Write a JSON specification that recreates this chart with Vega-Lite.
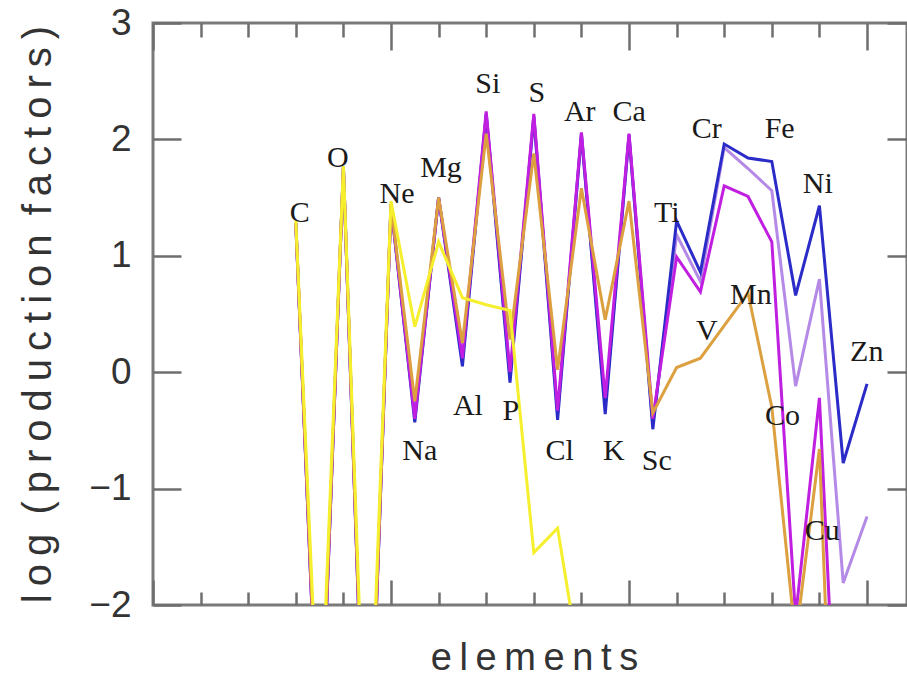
{
  "$schema": "https://vega.github.io/schema/vega-lite/v6.json",
  "width": 754,
  "height": 582,
  "autosize": {"type": "none"},
  "padding": {"left": 153, "top": 23, "right": 0, "bottom": 73},
  "background": "white",
  "config": {
    "view": {"stroke": "#7a7a7a", "strokeWidth": 3},
    "axis": {"domain": false, "grid": false, "tickColor": "#6e6e6e", "tickWidth": 2.5}
  },
  "datasets": {
    "lines": [
      {"s": "blue", "Z": 6, "v": 1.28}, {"s": "blue", "Z": 7, "v": -3.6}, {"s": "blue", "Z": 8, "v": 1.76}, {"s": "blue", "Z": 9, "v": -4.2}, {"s": "blue", "Z": 10, "v": 1.44}, {"s": "blue", "Z": 11, "v": -0.43}, {"s": "blue", "Z": 12, "v": 1.5}, {"s": "blue", "Z": 13, "v": 0.05}, {"s": "blue", "Z": 14, "v": 2.22}, {"s": "blue", "Z": 15, "v": -0.09}, {"s": "blue", "Z": 16, "v": 2.2}, {"s": "blue", "Z": 17, "v": -0.41}, {"s": "blue", "Z": 18, "v": 2.05}, {"s": "blue", "Z": 19, "v": -0.36}, {"s": "blue", "Z": 20, "v": 2.04}, {"s": "blue", "Z": 21, "v": -0.49}, {"s": "blue", "Z": 22, "v": 1.3}, {"s": "blue", "Z": 23, "v": 0.86}, {"s": "blue", "Z": 24, "v": 1.96}, {"s": "blue", "Z": 25, "v": 1.84}, {"s": "blue", "Z": 26, "v": 1.81}, {"s": "blue", "Z": 27, "v": 0.66}, {"s": "blue", "Z": 28, "v": 1.43}, {"s": "blue", "Z": 29, "v": -0.78}, {"s": "blue", "Z": 30, "v": -0.1},
      {"s": "lav", "Z": 6, "v": 1.28}, {"s": "lav", "Z": 7, "v": -3.6}, {"s": "lav", "Z": 8, "v": 1.76}, {"s": "lav", "Z": 9, "v": -4.2}, {"s": "lav", "Z": 10, "v": 1.44}, {"s": "lav", "Z": 11, "v": -0.38}, {"s": "lav", "Z": 12, "v": 1.5}, {"s": "lav", "Z": 13, "v": 0.1}, {"s": "lav", "Z": 14, "v": 2.2}, {"s": "lav", "Z": 15, "v": -0.04}, {"s": "lav", "Z": 16, "v": 2.18}, {"s": "lav", "Z": 17, "v": -0.36}, {"s": "lav", "Z": 18, "v": 2.03}, {"s": "lav", "Z": 19, "v": -0.3}, {"s": "lav", "Z": 20, "v": 2.02}, {"s": "lav", "Z": 21, "v": -0.45}, {"s": "lav", "Z": 22, "v": 1.18}, {"s": "lav", "Z": 23, "v": 0.78}, {"s": "lav", "Z": 24, "v": 1.93}, {"s": "lav", "Z": 25, "v": 1.75}, {"s": "lav", "Z": 26, "v": 1.56}, {"s": "lav", "Z": 27, "v": -0.12}, {"s": "lav", "Z": 28, "v": 0.8}, {"s": "lav", "Z": 29, "v": -1.81}, {"s": "lav", "Z": 30, "v": -1.24},
      {"s": "mag", "Z": 6, "v": 1.28}, {"s": "mag", "Z": 7, "v": -3.6}, {"s": "mag", "Z": 8, "v": 1.76}, {"s": "mag", "Z": 9, "v": -4.2}, {"s": "mag", "Z": 10, "v": 1.44}, {"s": "mag", "Z": 11, "v": -0.4}, {"s": "mag", "Z": 12, "v": 1.5}, {"s": "mag", "Z": 13, "v": 0.12}, {"s": "mag", "Z": 14, "v": 2.24}, {"s": "mag", "Z": 15, "v": 0.0}, {"s": "mag", "Z": 16, "v": 2.22}, {"s": "mag", "Z": 17, "v": -0.33}, {"s": "mag", "Z": 18, "v": 2.06}, {"s": "mag", "Z": 19, "v": -0.22}, {"s": "mag", "Z": 20, "v": 2.05}, {"s": "mag", "Z": 21, "v": -0.4}, {"s": "mag", "Z": 22, "v": 0.99}, {"s": "mag", "Z": 23, "v": 0.69}, {"s": "mag", "Z": 24, "v": 1.6}, {"s": "mag", "Z": 25, "v": 1.51}, {"s": "mag", "Z": 26, "v": 1.12}, {"s": "mag", "Z": 27, "v": -2.1}, {"s": "mag", "Z": 28, "v": -0.22}, {"s": "mag", "Z": 29, "v": -4.5}, {"s": "mag", "Z": 30, "v": -4.5},
      {"s": "org", "Z": 6, "v": 1.28}, {"s": "org", "Z": 7, "v": -3.5}, {"s": "org", "Z": 8, "v": 1.76}, {"s": "org", "Z": 9, "v": -4.1}, {"s": "org", "Z": 10, "v": 1.44}, {"s": "org", "Z": 11, "v": -0.25}, {"s": "org", "Z": 12, "v": 1.5}, {"s": "org", "Z": 13, "v": 0.25}, {"s": "org", "Z": 14, "v": 2.05}, {"s": "org", "Z": 15, "v": 0.28}, {"s": "org", "Z": 16, "v": 1.88}, {"s": "org", "Z": 17, "v": 0.02}, {"s": "org", "Z": 18, "v": 1.58}, {"s": "org", "Z": 19, "v": 0.45}, {"s": "org", "Z": 20, "v": 1.47}, {"s": "org", "Z": 21, "v": -0.35}, {"s": "org", "Z": 22, "v": 0.04}, {"s": "org", "Z": 23, "v": 0.12}, {"s": "org", "Z": 24, "v": 0.4}, {"s": "org", "Z": 25, "v": 0.68}, {"s": "org", "Z": 26, "v": -0.3}, {"s": "org", "Z": 27, "v": -2.3}, {"s": "org", "Z": 28, "v": -0.66}, {"s": "org", "Z": 29, "v": -6.0}, {"s": "org", "Z": 30, "v": -6.0},
      {"s": "yel", "Z": 6, "v": 1.3}, {"s": "yel", "Z": 7, "v": -3.3}, {"s": "yel", "Z": 8, "v": 1.77}, {"s": "yel", "Z": 9, "v": -3.9}, {"s": "yel", "Z": 10, "v": 1.47}, {"s": "yel", "Z": 11, "v": 0.39}, {"s": "yel", "Z": 12, "v": 1.12}, {"s": "yel", "Z": 13, "v": 0.64}, {"s": "yel", "Z": 14, "v": 0.58}, {"s": "yel", "Z": 15, "v": 0.53}, {"s": "yel", "Z": 16, "v": -1.55}, {"s": "yel", "Z": 17, "v": -1.34}, {"s": "yel", "Z": 18, "v": -2.6}
    ],
    "labels": [
      {"el": "C", "lx": 6.17, "ly": 1.29}, {"el": "O", "lx": 7.77, "ly": 1.76}, {"el": "Ne", "lx": 10.25, "ly": 1.45}, {"el": "Mg", "lx": 12.1, "ly": 1.68},
      {"el": "Si", "lx": 14.07, "ly": 2.4}, {"el": "S", "lx": 16.13, "ly": 2.32}, {"el": "Ar", "lx": 17.93, "ly": 2.16}, {"el": "Ca", "lx": 20.01, "ly": 2.16},
      {"el": "Ti", "lx": 21.59, "ly": 1.29}, {"el": "Cr", "lx": 23.27, "ly": 2.01}, {"el": "Fe", "lx": 26.33, "ly": 2.01}, {"el": "Ni", "lx": 27.93, "ly": 1.54},
      {"el": "Mn", "lx": 25.12, "ly": 0.59}, {"el": "V", "lx": 23.27, "ly": 0.28}, {"el": "Na", "lx": 11.21, "ly": -0.75}, {"el": "Al", "lx": 13.23, "ly": -0.37},
      {"el": "P", "lx": 15.04, "ly": -0.41}, {"el": "Cl", "lx": 17.09, "ly": -0.75}, {"el": "K", "lx": 19.36, "ly": -0.75}, {"el": "Sc", "lx": 21.17, "ly": -0.84},
      {"el": "Co", "lx": 26.45, "ly": -0.45}, {"el": "Cu", "lx": 28.12, "ly": -1.44}, {"el": "Zn", "lx": 29.99, "ly": 0.1}
    ]
  },
  "layer": [
    {
      "data": {"name": "lines"},
      "encoding": {
        "x": {
          "field": "Z", "type": "quantitative",
          "scale": {"domain": [0, 31.68], "nice": false, "zero": false},
          "axis": {
            "orient": "bottom",
            "values": [0, 2, 4, 6, 8, 10, 12, 14, 16, 18, 20, 22, 24, 26, 28, 30],
            "labels": false,
            "tickSize": {"condition": {"test": "datum.value % 10 === 0", "value": -25}, "value": -13},
            "title": "e\u2009l\u2009e\u2009m\u2009e\u2009n\u2009t\u2009s",
            "titleFont": "Liberation Sans", "titleFontSize": 38, "titleFontWeight": "normal", "titleColor": "#333",
            "titleX": 381, "titleY": 64, "titleBaseline": "alphabetic", "titleAlign": "center"
          }
        },
        "y": {
          "field": "v", "type": "quantitative",
          "scale": {"domain": [-2, 3], "nice": false, "zero": false},
          "axis": {
            "orient": "left",
            "values": [-2, -1, 0, 1, 2, 3],
            "tickSize": -28,
            "labelPadding": 50,
            "labelFont": "Liberation Sans", "labelFontSize": 37, "labelColor": "#333",
            "title": "l\u2009o\u2009g \u2009(\u2009p\u2009r\u2009o\u2009d\u2009u\u2009c\u2009t\u2009i\u2009o\u2009n \u2009f\u2009a\u2009c\u2009t\u2009o\u2009r\u2009s\u2009)",
            "titleFont": "Liberation Sans", "titleFontSize": 40, "titleFontWeight": "normal", "titleColor": "#333",
            "titleAngle": 270, "titleX": -103, "titleY": 291, "titleBaseline": "alphabetic", "titleAlign": "center"
          }
        }
      },
      "layer": [
        {"transform": [{"filter": "datum.s === 'lav'"}], "mark": {"type": "line", "color": "#b48ae6", "strokeWidth": 3, "clip": true}},
        {"transform": [{"filter": "datum.s === 'blue'"}], "mark": {"type": "line", "color": "#2b2bc8", "strokeWidth": 3, "clip": true}},
        {"transform": [{"filter": "datum.s === 'mag'"}], "mark": {"type": "line", "color": "#c01ee0", "strokeWidth": 3, "clip": true}},
        {"transform": [{"filter": "datum.s === 'org'"}], "mark": {"type": "line", "color": "#dca040", "strokeWidth": 3, "clip": true}},
        {"transform": [{"filter": "datum.s === 'yel'"}], "mark": {"type": "line", "color": "#f5ef2e", "strokeWidth": 3, "clip": true}}
      ]
    },
    {
      "data": {"name": "labels"},
      "mark": {"type": "text", "font": "Liberation Serif", "fontSize": 30, "color": "#1a1a1a", "align": "center", "baseline": "alphabetic"},
      "encoding": {
        "x": {
          "field": "lx", "type": "quantitative",
          "scale": {"domain": [0, 31.68], "nice": false, "zero": false},
          "axis": {
            "orient": "top",
            "values": [0, 2, 4, 6, 8, 10, 12, 14, 16, 18, 20, 22, 24, 26, 28, 30],
            "labels": false, "title": null,
            "tickSize": {"condition": {"test": "datum.value % 10 === 0", "value": -27}, "value": -14}
          }
        },
        "y": {
          "field": "ly", "type": "quantitative",
          "scale": {"domain": [-2, 3], "nice": false, "zero": false},
          "axis": {"orient": "right", "values": [-2, -1, 0, 1, 2, 3], "labels": false, "title": null, "tickSize": -20}
        },
        "text": {"field": "el"}
      }
    }
  ],
  "resolve": {"axis": {"x": "independent", "y": "independent"}}
}
